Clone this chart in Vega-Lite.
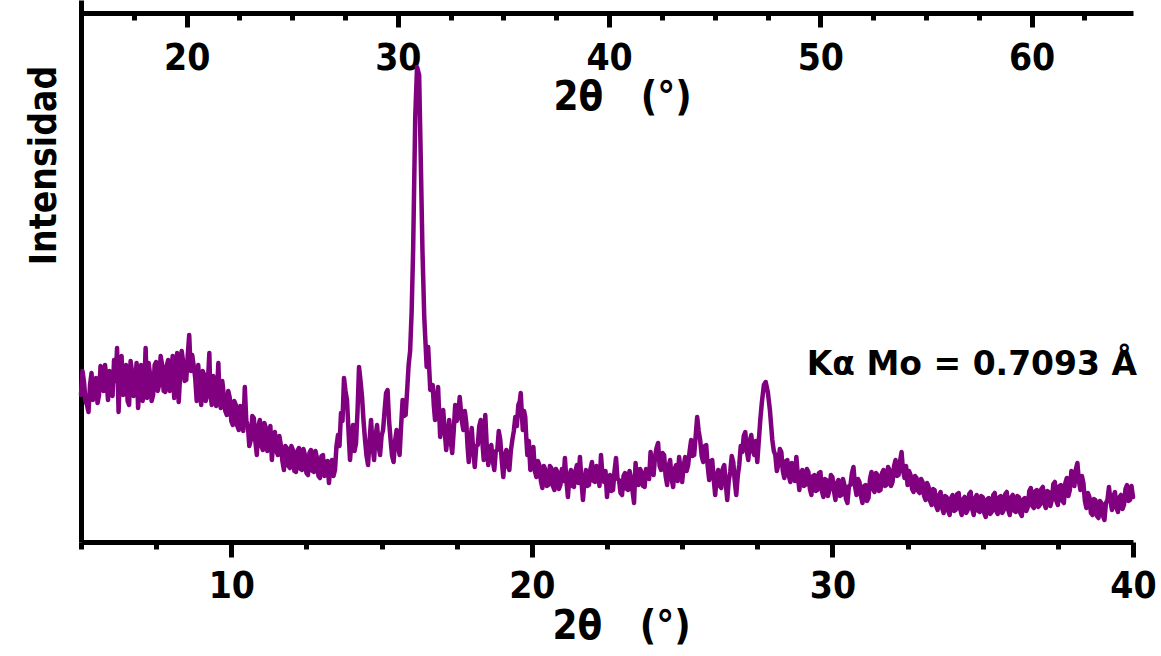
{
 "$schema": "https://vega.github.io/schema/vega-lite/v6.json",
 "width": 1052, "height": 542,
 "autosize": {"type": "none"},
 "padding": {"left": 81, "top": 0, "right": 28, "bottom": 114},
 "background": "white",
 "config": {"view": {"stroke": null},
  "axis": {"domainColor": "black", "domainWidth": 5, "tickColor": "black", "tickWidth": 5, "labelColor": "black", "titleColor": "black", "labelFont": "DejaVu Sans Condensed", "titleFont": "DejaVu Sans Condensed", "labelFontWeight": "bold", "titleFontWeight": "bold", "labelFontSize": 37, "titleFontSize": 40, "grid": false, "labelFlush": false, "labelOverlap": false}},
 "layer": [
  {"data": {"values": [
{"t":5.0,"i":146},{"t":5.05,"i":170},{"t":5.1,"i":159},{"t":5.15,"i":140},{"t":5.2,"i":136},{"t":5.25,"i":129},{"t":5.3,"i":156},{"t":5.35,"i":168},{"t":5.4,"i":141},{"t":5.45,"i":150},{"t":5.5,"i":163},{"t":5.55,"i":138},{"t":5.6,"i":146},{"t":5.65,"i":175},{"t":5.7,"i":171},{"t":5.75,"i":150},{"t":5.8,"i":176},{"t":5.85,"i":160},{"t":5.9,"i":141},{"t":5.95,"i":170},
{"t":6.0,"i":166},{"t":6.05,"i":145},{"t":6.1,"i":181},{"t":6.15,"i":160},{"t":6.2,"i":193},{"t":6.25,"i":129},{"t":6.3,"i":171},{"t":6.35,"i":185},{"t":6.4,"i":146},{"t":6.45,"i":165},{"t":6.5,"i":176},{"t":6.55,"i":140},{"t":6.6,"i":136},{"t":6.65,"i":180},{"t":6.7,"i":169},{"t":6.75,"i":145},{"t":6.8,"i":156},{"t":6.85,"i":178},{"t":6.9,"i":133},{"t":6.95,"i":160},
{"t":7.0,"i":176},{"t":7.05,"i":140},{"t":7.1,"i":151},{"t":7.15,"i":193},{"t":7.2,"i":143},{"t":7.25,"i":178},{"t":7.3,"i":166},{"t":7.35,"i":140},{"t":7.4,"i":146},{"t":7.45,"i":176},{"t":7.5,"i":179},{"t":7.55,"i":150},{"t":7.6,"i":156},{"t":7.65,"i":185},{"t":7.7,"i":176},{"t":7.75,"i":150},{"t":7.8,"i":149},{"t":7.85,"i":175},{"t":7.9,"i":181},{"t":7.95,"i":150},
{"t":8.0,"i":161},{"t":8.05,"i":185},{"t":8.1,"i":143},{"t":8.15,"i":170},{"t":8.2,"i":188},{"t":8.25,"i":139},{"t":8.3,"i":166},{"t":8.35,"i":190},{"t":8.4,"i":179},{"t":8.45,"i":160},{"t":8.5,"i":161},{"t":8.55,"i":185},{"t":8.6,"i":206},{"t":8.65,"i":170},{"t":8.7,"i":186},{"t":8.75,"i":175},{"t":8.8,"i":163},{"t":8.85,"i":140},{"t":8.9,"i":176},{"t":8.95,"i":150},
{"t":9.0,"i":136},{"t":9.05,"i":170},{"t":9.1,"i":166},{"t":9.15,"i":140},{"t":9.2,"i":146},{"t":9.27,"i":188},{"t":9.3,"i":150},{"t":9.35,"i":136},{"t":9.4,"i":165},{"t":9.45,"i":156},{"t":9.5,"i":135},{"t":9.57,"i":178},{"t":9.6,"i":150},{"t":9.65,"i":133},{"t":9.7,"i":160},{"t":9.75,"i":146},{"t":9.8,"i":130},{"t":9.85,"i":126},{"t":9.9,"i":150},{"t":9.95,"i":143},
{"t":10.0,"i":120},{"t":10.05,"i":116},{"t":10.1,"i":140},{"t":10.15,"i":136},{"t":10.2,"i":115},{"t":10.25,"i":111},{"t":10.3,"i":135},{"t":10.35,"i":129},{"t":10.4,"i":110},{"t":10.45,"i":154},{"t":10.5,"i":120},{"t":10.55,"i":116},{"t":10.6,"i":95},{"t":10.65,"i":101},{"t":10.7,"i":125},{"t":10.75,"i":123},{"t":10.8,"i":100},{"t":10.85,"i":86},{"t":10.9,"i":115},{"t":10.95,"i":121},
{"t":11.0,"i":95},{"t":11.05,"i":91},{"t":11.1,"i":118},{"t":11.15,"i":113},{"t":11.2,"i":90},{"t":11.25,"i":101},{"t":11.3,"i":115},{"t":11.35,"i":81},{"t":11.4,"i":100},{"t":11.45,"i":109},{"t":11.5,"i":90},{"t":11.55,"i":86},{"t":11.6,"i":105},{"t":11.65,"i":96},{"t":11.7,"i":80},{"t":11.75,"i":71},{"t":11.8,"i":95},{"t":11.85,"i":93},{"t":11.9,"i":75},{"t":11.95,"i":73},
{"t":12.0,"i":95},{"t":12.05,"i":91},{"t":12.1,"i":70},{"t":12.15,"i":69},{"t":12.2,"i":90},{"t":12.25,"i":93},{"t":12.3,"i":72},{"t":12.35,"i":71},{"t":12.4,"i":92},{"t":12.45,"i":86},{"t":12.5,"i":68},{"t":12.55,"i":66},{"t":12.6,"i":88},{"t":12.65,"i":91},{"t":12.7,"i":70},{"t":12.75,"i":69},{"t":12.8,"i":90},{"t":12.85,"i":83},{"t":12.9,"i":65},{"t":12.95,"i":63},
{"t":13.0,"i":85},{"t":13.05,"i":86},{"t":13.1,"i":65},{"t":13.15,"i":66},{"t":13.2,"i":80},{"t":13.25,"i":58},{"t":13.3,"i":75},{"t":13.35,"i":81},{"t":13.4,"i":65},{"t":13.45,"i":71},{"t":13.5,"i":95},{"t":13.55,"i":106},{"t":13.6,"i":95},{"t":13.65,"i":128},{"t":13.7,"i":120},{"t":13.75,"i":163},{"t":13.8,"i":150},{"t":13.85,"i":141},{"t":13.9,"i":110},{"t":13.95,"i":81},
{"t":14.0,"i":100},{"t":14.05,"i":116},{"t":14.1,"i":90},{"t":14.15,"i":98},{"t":14.2,"i":130},{"t":14.25,"i":174},{"t":14.3,"i":160},{"t":14.35,"i":144},{"t":14.4,"i":120},{"t":14.45,"i":101},{"t":14.5,"i":85},{"t":14.55,"i":76},{"t":14.6,"i":100},{"t":14.65,"i":121},{"t":14.7,"i":95},{"t":14.75,"i":81},{"t":14.8,"i":105},{"t":14.85,"i":116},{"t":14.9,"i":95},{"t":14.95,"i":86},
{"t":15.0,"i":105},{"t":15.05,"i":111},{"t":15.1,"i":130},{"t":15.15,"i":148},{"t":15.2,"i":151},{"t":15.25,"i":120},{"t":15.3,"i":101},{"t":15.35,"i":85},{"t":15.4,"i":79},{"t":15.45,"i":100},{"t":15.5,"i":111},{"t":15.55,"i":95},{"t":15.6,"i":86},{"t":15.65,"i":115},{"t":15.7,"i":141},{"t":15.75,"i":125},{"t":15.8,"i":126},{"t":15.85,"i":150},{"t":15.9,"i":176},{"t":15.95,"i":190},
{"t":16.0,"i":229},{"t":16.05,"i":291},{"t":16.12,"i":424},{"t":16.18,"i":474},{"t":16.25,"i":466},{"t":16.3,"i":388},{"t":16.36,"i":291},{"t":16.42,"i":224},{"t":16.5,"i":174},{"t":16.55,"i":194},{"t":16.62,"i":151},{"t":16.7,"i":156},{"t":16.74,"i":135},{"t":16.78,"i":121},{"t":16.83,"i":140},{"t":16.88,"i":154},{"t":16.92,"i":125},{"t":16.95,"i":104},
{"t":17.0,"i":120},{"t":17.05,"i":131},{"t":17.1,"i":110},{"t":17.15,"i":91},{"t":17.2,"i":105},{"t":17.25,"i":121},{"t":17.3,"i":100},{"t":17.35,"i":88},{"t":17.4,"i":110},{"t":17.45,"i":136},{"t":17.5,"i":120},{"t":17.55,"i":126},{"t":17.6,"i":144},{"t":17.67,"i":120},{"t":17.72,"i":111},{"t":17.77,"i":130},{"t":17.82,"i":118},{"t":17.86,"i":95},{"t":17.9,"i":79},{"t":17.95,"i":100},
{"t":18.0,"i":113},{"t":18.05,"i":90},{"t":18.1,"i":74},{"t":18.15,"i":95},{"t":18.2,"i":96},{"t":18.25,"i":115},{"t":18.3,"i":121},{"t":18.35,"i":100},{"t":18.4,"i":81},{"t":18.45,"i":126},{"t":18.5,"i":95},{"t":18.55,"i":76},{"t":18.6,"i":90},{"t":18.65,"i":96},{"t":18.7,"i":80},{"t":18.75,"i":71},{"t":18.8,"i":90},{"t":18.85,"i":91},{"t":18.9,"i":110},{"t":18.95,"i":101},
{"t":19.0,"i":80},{"t":19.05,"i":64},{"t":19.1,"i":85},{"t":19.15,"i":91},{"t":19.2,"i":75},{"t":19.25,"i":71},{"t":19.3,"i":90},{"t":19.35,"i":101},{"t":19.4,"i":110},{"t":19.45,"i":124},{"t":19.5,"i":115},{"t":19.55,"i":136},{"t":19.6,"i":140},{"t":19.63,"i":148},{"t":19.67,"i":125},{"t":19.7,"i":111},{"t":19.74,"i":130},{"t":19.78,"i":124},{"t":19.82,"i":100},{"t":19.85,"i":86},{"t":19.9,"i":100},{"t":19.95,"i":71},
{"t":20.0,"i":85},{"t":20.05,"i":94},{"t":20.1,"i":70},{"t":20.15,"i":64},{"t":20.2,"i":80},{"t":20.25,"i":76},{"t":20.3,"i":60},{"t":20.35,"i":53},{"t":20.4,"i":75},{"t":20.45,"i":71},{"t":20.5,"i":55},{"t":20.55,"i":56},{"t":20.6,"i":75},{"t":20.65,"i":73},{"t":20.7,"i":55},{"t":20.75,"i":51},{"t":20.8,"i":72},{"t":20.85,"i":69},{"t":20.9,"i":52},{"t":20.95,"i":56},
{"t":21.0,"i":72},{"t":21.05,"i":60},{"t":21.1,"i":83},{"t":21.15,"i":60},{"t":21.2,"i":44},{"t":21.25,"i":65},{"t":21.3,"i":71},{"t":21.35,"i":55},{"t":21.4,"i":54},{"t":21.45,"i":70},{"t":21.5,"i":76},{"t":21.55,"i":58},{"t":21.6,"i":84},{"t":21.65,"i":60},{"t":21.7,"i":41},{"t":21.75,"i":60},{"t":21.8,"i":71},{"t":21.85,"i":55},{"t":21.9,"i":56},{"t":21.95,"i":72},
{"t":22.0,"i":79},{"t":22.05,"i":60},{"t":22.1,"i":59},{"t":22.15,"i":75},{"t":22.2,"i":71},{"t":22.25,"i":55},{"t":22.3,"i":86},{"t":22.35,"i":65},{"t":22.4,"i":59},{"t":22.45,"i":70},{"t":22.5,"i":44},{"t":22.55,"i":60},{"t":22.6,"i":66},{"t":22.65,"i":50},{"t":22.7,"i":51},{"t":22.75,"i":70},{"t":22.8,"i":83},{"t":22.85,"i":62},{"t":22.9,"i":61},{"t":22.95,"i":48},
{"t":23.0,"i":46},{"t":23.05,"i":65},{"t":23.1,"i":68},{"t":23.15,"i":52},{"t":23.2,"i":51},{"t":23.25,"i":70},{"t":23.3,"i":63},{"t":23.35,"i":50},{"t":23.4,"i":38},{"t":23.45,"i":78},{"t":23.5,"i":60},{"t":23.55,"i":56},{"t":23.6,"i":72},{"t":23.65,"i":69},{"t":23.7,"i":55},{"t":23.75,"i":54},{"t":23.8,"i":72},{"t":23.85,"i":71},{"t":23.9,"i":62},{"t":23.95,"i":89},
{"t":24.0,"i":70},{"t":24.05,"i":66},{"t":24.1,"i":85},{"t":24.15,"i":93},{"t":24.2,"i":98},{"t":24.25,"i":75},{"t":24.3,"i":71},{"t":24.35,"i":88},{"t":24.4,"i":86},{"t":24.45,"i":65},{"t":24.5,"i":56},{"t":24.55,"i":75},{"t":24.6,"i":81},{"t":24.65,"i":62},{"t":24.7,"i":54},{"t":24.75,"i":72},{"t":24.8,"i":76},{"t":24.85,"i":60},{"t":24.9,"i":84},{"t":24.95,"i":70},
{"t":25.0,"i":59},{"t":25.05,"i":75},{"t":25.1,"i":84},{"t":25.15,"i":70},{"t":25.2,"i":76},{"t":25.25,"i":90},{"t":25.3,"i":101},{"t":25.35,"i":85},{"t":25.4,"i":86},{"t":25.45,"i":105},{"t":25.5,"i":124},{"t":25.55,"i":110},{"t":25.6,"i":101},{"t":25.65,"i":85},{"t":25.7,"i":79},{"t":25.75,"i":95},{"t":25.8,"i":96},{"t":25.85,"i":75},{"t":25.9,"i":61},{"t":25.95,"i":80},
{"t":26.0,"i":81},{"t":26.05,"i":62},{"t":26.1,"i":46},{"t":26.15,"i":65},{"t":26.2,"i":71},{"t":26.25,"i":55},{"t":26.3,"i":53},{"t":26.35,"i":72},{"t":26.4,"i":76},{"t":26.45,"i":58},{"t":26.5,"i":41},{"t":26.55,"i":60},{"t":26.6,"i":69},{"t":26.65,"i":85},{"t":26.7,"i":79},{"t":26.75,"i":60},{"t":26.8,"i":46},{"t":26.85,"i":65},{"t":26.9,"i":76},{"t":26.95,"i":95},
{"t":27.0,"i":89},{"t":27.05,"i":105},{"t":27.1,"i":109},{"t":27.15,"i":90},{"t":27.2,"i":81},{"t":27.25,"i":100},{"t":27.3,"i":106},{"t":27.35,"i":90},{"t":27.4,"i":86},{"t":27.45,"i":100},{"t":27.5,"i":79},{"t":27.55,"i":100},{"t":27.6,"i":121},{"t":27.65,"i":138},{"t":27.72,"i":156},{"t":27.78,"i":159},{"t":27.85,"i":149},{"t":27.92,"i":131},
{"t":28.0,"i":101},{"t":28.05,"i":90},{"t":28.1,"i":86},{"t":28.15,"i":70},{"t":28.2,"i":76},{"t":28.25,"i":92},{"t":28.3,"i":89},{"t":28.35,"i":70},{"t":28.4,"i":63},{"t":28.45,"i":80},{"t":28.5,"i":81},{"t":28.55,"i":65},{"t":28.6,"i":59},{"t":28.65,"i":78},{"t":28.7,"i":71},{"t":28.75,"i":60},{"t":28.8,"i":84},{"t":28.85,"i":65},{"t":28.9,"i":51},{"t":28.95,"i":68},
{"t":29.0,"i":71},{"t":29.05,"i":55},{"t":29.1,"i":56},{"t":29.15,"i":72},{"t":29.2,"i":69},{"t":29.25,"i":52},{"t":29.3,"i":46},{"t":29.35,"i":65},{"t":29.4,"i":66},{"t":29.45,"i":50},{"t":29.5,"i":51},{"t":29.55,"i":68},{"t":29.6,"i":69},{"t":29.65,"i":50},{"t":29.7,"i":44},{"t":29.75,"i":62},{"t":29.8,"i":61},{"t":29.85,"i":45},{"t":29.9,"i":51},{"t":29.95,"i":66},
{"t":30.0,"i":64},{"t":30.05,"i":50},{"t":30.1,"i":41},{"t":30.15,"i":58},{"t":30.2,"i":61},{"t":30.25,"i":45},{"t":30.3,"i":46},{"t":30.35,"i":62},{"t":30.4,"i":56},{"t":30.45,"i":42},{"t":30.5,"i":38},{"t":30.55,"i":55},{"t":30.6,"i":56},{"t":30.65,"i":68},{"t":30.7,"i":74},{"t":30.75,"i":55},{"t":30.8,"i":46},{"t":30.85,"i":62},{"t":30.9,"i":59},{"t":30.95,"i":45},
{"t":31.0,"i":38},{"t":31.05,"i":55},{"t":31.1,"i":56},{"t":31.15,"i":40},{"t":31.2,"i":43},{"t":31.25,"i":62},{"t":31.3,"i":69},{"t":31.35,"i":52},{"t":31.4,"i":49},{"t":31.45,"i":68},{"t":31.5,"i":66},{"t":31.55,"i":50},{"t":31.6,"i":51},{"t":31.65,"i":68},{"t":31.7,"i":71},{"t":31.75,"i":55},{"t":31.8,"i":56},{"t":31.85,"i":74},{"t":31.9,"i":71},{"t":31.95,"i":55},
{"t":32.0,"i":59},{"t":32.05,"i":75},{"t":32.1,"i":81},{"t":32.15,"i":65},{"t":32.2,"i":66},{"t":32.25,"i":80},{"t":32.3,"i":89},{"t":32.35,"i":70},{"t":32.4,"i":63},{"t":32.45,"i":75},{"t":32.5,"i":56},{"t":32.55,"i":70},{"t":32.6,"i":66},{"t":32.65,"i":52},{"t":32.7,"i":49},{"t":32.75,"i":65},{"t":32.8,"i":63},{"t":32.85,"i":50},{"t":32.9,"i":48},{"t":32.95,"i":62},
{"t":33.0,"i":59},{"t":33.05,"i":45},{"t":33.1,"i":41},{"t":33.15,"i":58},{"t":33.2,"i":54},{"t":33.25,"i":40},{"t":33.3,"i":36},{"t":33.35,"i":52},{"t":33.4,"i":51},{"t":33.45,"i":35},{"t":33.5,"i":31},{"t":33.55,"i":46},{"t":33.6,"i":49},{"t":33.65,"i":33},{"t":33.7,"i":28},{"t":33.75,"i":45},{"t":33.8,"i":44},{"t":33.85,"i":30},{"t":33.9,"i":26},{"t":33.95,"i":43},
{"t":34.0,"i":46},{"t":34.05,"i":30},{"t":34.1,"i":31},{"t":34.15,"i":47},{"t":34.2,"i":48},{"t":34.25,"i":32},{"t":34.3,"i":26},{"t":34.35,"i":42},{"t":34.4,"i":44},{"t":34.45,"i":28},{"t":34.5,"i":31},{"t":34.55,"i":47},{"t":34.6,"i":49},{"t":34.65,"i":32},{"t":34.7,"i":26},{"t":34.75,"i":43},{"t":34.8,"i":46},{"t":34.85,"i":30},{"t":34.9,"i":29},{"t":34.95,"i":45},
{"t":35.0,"i":44},{"t":35.05,"i":28},{"t":35.1,"i":24},{"t":35.15,"i":42},{"t":35.2,"i":43},{"t":35.25,"i":27},{"t":35.3,"i":29},{"t":35.35,"i":46},{"t":35.4,"i":48},{"t":35.45,"i":30},{"t":35.5,"i":27},{"t":35.55,"i":44},{"t":35.6,"i":45},{"t":35.65,"i":28},{"t":35.7,"i":31},{"t":35.75,"i":47},{"t":35.8,"i":49},{"t":35.85,"i":31},{"t":35.9,"i":26},{"t":35.95,"i":44},
{"t":36.0,"i":46},{"t":36.05,"i":30},{"t":36.1,"i":29},{"t":36.15,"i":45},{"t":36.2,"i":44},{"t":36.25,"i":28},{"t":36.3,"i":25},{"t":36.35,"i":42},{"t":36.4,"i":43},{"t":36.45,"i":30},{"t":36.5,"i":34},{"t":36.55,"i":50},{"t":36.6,"i":53},{"t":36.65,"i":35},{"t":36.7,"i":33},{"t":36.75,"i":50},{"t":36.8,"i":51},{"t":36.85,"i":34},{"t":36.9,"i":36},{"t":36.95,"i":52},
{"t":37.0,"i":54},{"t":37.05,"i":37},{"t":37.1,"i":33},{"t":37.15,"i":50},{"t":37.2,"i":49},{"t":37.25,"i":35},{"t":37.3,"i":41},{"t":37.35,"i":57},{"t":37.4,"i":59},{"t":37.45,"i":40},{"t":37.5,"i":36},{"t":37.55,"i":55},{"t":37.6,"i":56},{"t":37.65,"i":40},{"t":37.7,"i":38},{"t":37.75,"i":58},{"t":37.8,"i":63},{"t":37.85,"i":45},{"t":37.9,"i":51},{"t":37.95,"i":70},
{"t":38.0,"i":68},{"t":38.05,"i":55},{"t":38.1,"i":72},{"t":38.15,"i":78},{"t":38.2,"i":60},{"t":38.25,"i":51},{"t":38.3,"i":65},{"t":38.35,"i":58},{"t":38.4,"i":40},{"t":38.45,"i":33},{"t":38.5,"i":48},{"t":38.55,"i":44},{"t":38.6,"i":28},{"t":38.65,"i":26},{"t":38.7,"i":42},{"t":38.75,"i":41},{"t":38.8,"i":25},{"t":38.85,"i":23},{"t":38.9,"i":40},{"t":38.95,"i":38},
{"t":39.0,"i":25},{"t":39.05,"i":21},{"t":39.1,"i":38},{"t":39.15,"i":41},{"t":39.2,"i":54},{"t":39.25,"i":40},{"t":39.3,"i":31},{"t":39.35,"i":45},{"t":39.4,"i":49},{"t":39.45,"i":33},{"t":39.5,"i":29},{"t":39.55,"i":44},{"t":39.6,"i":46},{"t":39.65,"i":32},{"t":39.7,"i":36},{"t":39.75,"i":52},{"t":39.8,"i":56},{"t":39.85,"i":40},{"t":39.9,"i":41},{"t":39.95,"i":55},{"t":40.0,"i":44}
   ]},
   "mark": {"type": "line", "color": "#800080", "strokeWidth": 4.5, "strokeJoin": "round", "strokeCap": "round"},
   "encoding": {
    "x": {"field": "t", "type": "quantitative", "scale": {"domain": [5, 40], "nice": false, "zero": false},
     "axis": {"orient": "bottom", "values": [5,7.5,10,12.5,15,17.5,20,22.5,25,27.5,30,32.5,35,37.5,40],
      "labelExpr": "datum.value % 10 === 0 ? datum.label : ''",
      "tickSize": {"condition": {"test": "datum.value % 10 === 0", "value": 15}, "value": 7},
      "labelPadding": 40, "labelBaseline": "alphabetic",
      "title": "2θ\u00a0\u00a0\u00a0(°)", "titleX": 540, "titleY": 96, "titleBaseline": "alphabetic", "titleAlign": "center"}},
    "y": {"field": "i", "type": "quantitative", "scale": {"domain": [-1, 541], "nice": false, "zero": false},
     "axis": {"ticks": false, "labels": false, "title": "Intensidad", "titleX": -26, "titleY": 165, "titleAngle": 270, "titleAlign": "center", "titleBaseline": "alphabetic", "titleFontSize": 37}}
   }},
  {"data": {"values": [{"t2": 64.99, "i": 166, "label": "Kα Mo = 0.7093 Å"}]},
   "mark": {"type": "text", "align": "right", "baseline": "alphabetic", "font": "DejaVu Sans", "fontWeight": "bold", "fontSize": 33, "color": "black"},
   "encoding": {
    "x": {"field": "t2", "type": "quantitative", "scale": {"domain": [15, 64.8], "nice": false, "zero": false},
     "axis": {"orient": "top", "offset": -13, "values": [15,17.5,20,22.5,25,27.5,30,32.5,35,37.5,40,42.5,45,47.5,50,52.5,55,57.5,60,62.5],
      "labelExpr": "datum.value % 10 === 0 ? datum.label : ''",
      "tickSize": {"condition": {"test": "datum.value % 10 === 0", "value": -14}, "value": -7},
      "labelPadding": -42, "labelBaseline": "alphabetic",
      "title": "2θ\u00a0\u00a0\u00a0(°)", "titleX": 541, "titleY": 96, "titleBaseline": "alphabetic", "titleAlign": "center"}},
    "y": {"field": "i", "type": "quantitative", "scale": {"domain": [-1, 541], "nice": false, "zero": false},
     "axis": {"ticks": false, "labels": false, "title": "Intensidad", "titleX": -26, "titleY": 165, "titleAngle": 270, "titleAlign": "center", "titleBaseline": "alphabetic", "titleFontSize": 37}},
    "text": {"field": "label"}
   }}
 ],
 "resolve": {"scale": {"x": "independent"}}
}
